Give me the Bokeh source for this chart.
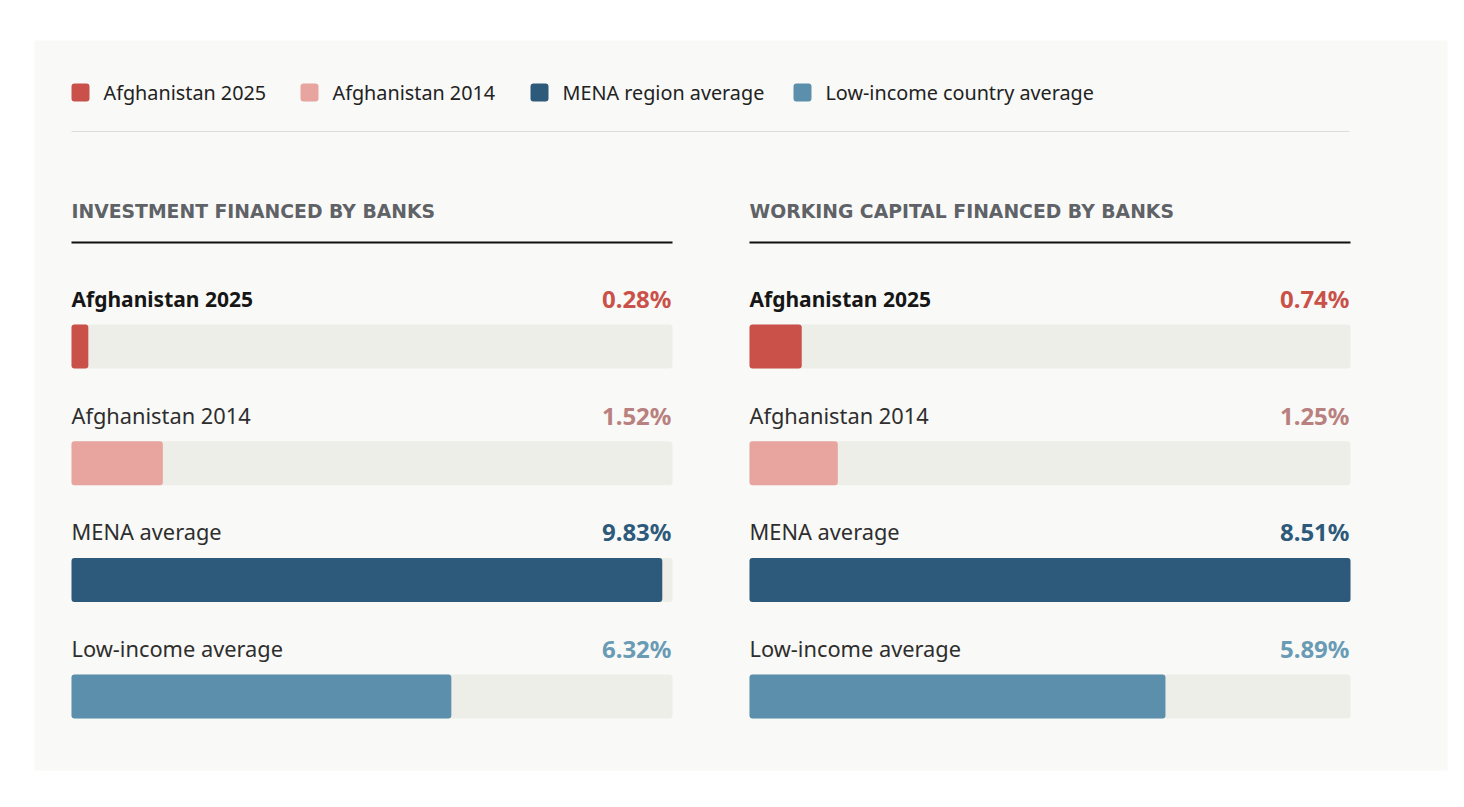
from bokeh.plotting import figure
from bokeh.models import Range1d, ColumnDataSource
from bokeh.core.properties import value
from bokeh.embed import file_html
from bokeh.resources import INLINE

# ---------------- data ----------------
legend_labels = ["Afghanistan 2025", "Afghanistan 2014", "MENA region average", "Low-income country average"]
row_labels = ["Afghanistan 2025", "Afghanistan 2014", "MENA average", "Low-income average"]
panel_titles = ["INVESTMENT FINANCED BY BANKS", "WORKING CAPITAL FINANCED BY BANKS"]
investment_by_banks = [0.28, 1.52, 9.83, 6.32]
working_capital_by_banks = [0.74, 1.25, 8.51, 5.89]
panel_domain_max = [10.0, 8.51]

# ---------------- styles ----------------
bar_colors = ["#c9514a", "#e8a59f", "#2d5a7b", "#5b8fab"]
value_colors = ["#c9514a", "#b98080", "#2d5a7b", "#6a9bb5"]
label_colors = ["#161616", "#2e2e2e", "#2e2e2e", "#2e2e2e"]
label_styles = ["bold", "normal", "normal", "normal"]
label_sizes = ["21px", "21.8px", "21.8px", "21.8px"]
FONT = "Noto Sans"
PANEL_BG = "#f9f9f7"
TRACK = "#eeeee9"

FRAME_W, FRAME_H = 1413, 730
panel_left = [37, 715]
panel_width = 601
legend_square_x = [37, 266, 496, 759]
legend_y = 52
bar_top0 = 284
row_step = 116.7
bar_h = 44

p = figure(width=1448, height=791, output_backend="svg", toolbar_location=None,
           x_axis_type=None, y_axis_type=None,
           x_range=Range1d(0, FRAME_W), y_range=Range1d(FRAME_H, 0),
           min_border_left=34, min_border_top=40, min_border_right=1, min_border_bottom=21,
           background_fill_color=PANEL_BG, border_fill_color="white")
p.outline_line_color = None
p.grid.visible = False

# legend
p.rect(x=[x + 9 for x in legend_square_x], y=[legend_y] * 4, width=18, height=18,
       fill_color=bar_colors, line_color=None, border_radius=3)
p.text(x=[x + 32 for x in legend_square_x], y=[legend_y] * 4, text=legend_labels,
       text_font=value(FONT), text_font_size="19.8px", text_color="#222222",
       text_baseline="middle", text_align="left")
p.segment(x0=[37], y0=[91], x1=[1315], y1=[91], line_color="#dddddd", line_width=1)

# panels
for k, vals in enumerate([investment_by_banks, working_capital_by_banks]):
    px0 = panel_left[k]
    dmax = panel_domain_max[k]
    name = f"panel{k}"
    p.extra_x_ranges[name] = Range1d(-px0 / panel_width * dmax, (FRAME_W - px0) / panel_width * dmax)

    p.text(x=[px0], y=[171], text=[panel_titles[k]], text_font=value("DejaVu Sans"),
           text_font_size="18.8px", text_font_style="bold", text_color="#5f6266",
           text_baseline="alphabetic", text_align="left")
    p.segment(x0=[px0], y0=[202], x1=[px0 + panel_width], y1=[202], line_color="#111111", line_width=2)

    ys = [bar_top0 + i * row_step + bar_h / 2 for i in range(len(vals))]
    base_y = [bar_top0 + i * row_step - 26 for i in range(len(vals))]

    # tracks
    p.hbar(y=ys, left=0, right=dmax, height=bar_h, fill_color=TRACK, line_color=None,
           border_radius=3, x_range_name=name)
    # value bars
    src = ColumnDataSource(dict(y=ys, v=vals, c=bar_colors))
    p.hbar(y="y", left=0, right="v", height=bar_h, fill_color="c", line_color=None,
           border_radius=3, x_range_name=name, source=src)

    for i in range(len(vals)):
        p.text(x=[px0], y=[base_y[i]], text=[row_labels[i]], text_font=value(FONT),
               text_font_size=label_sizes[i], text_font_style=label_styles[i], text_color=label_colors[i],
               text_baseline="alphabetic", text_align="left")
        p.text(x=[px0 + panel_width - 1], y=[base_y[i]], text=[f"{vals[i]:.2f}%"], text_font=value(FONT),
               text_font_size="24px", text_font_style="bold", text_color=value_colors[i],
               text_baseline="alphabetic", text_align="right")

open("out.html", "w").write(file_html(p, INLINE))
